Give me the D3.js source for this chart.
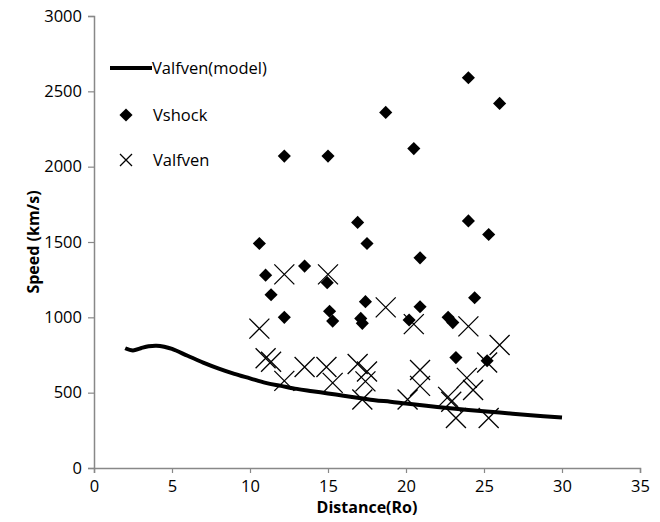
<!DOCTYPE html>
<html><head><meta charset="utf-8">
<script src="https://cdn.jsdelivr.net/npm/d3@7"></script>
<style>body{margin:0;background:#fff}svg{display:block}text{font-family:"Open Sans",sans-serif}</style>
</head><body><svg id="c" width="660" height="522"></svg>
<script>
const xTicks = [0,5,10,15,20,25,30,35];
const yTicks = [0,500,1000,1500,2000,2500,3000];
const modelX = [2.0,2.5,3.0,3.5,4.0,4.5,5.0,6,7,8,9,10,11,12,13,14,15,16,17,18,19,20,22,24,26,28,30];
const modelY = [795,780,795,808,812,805,790,745,700,660,625,595,565,545,525,510,495,480,465,450,440,428,405,385,368,350,335];
const shockX = [10.6,11.0,11.35,12.2,12.2,13.5,15.0,14.95,15.1,15.3,16.9,17.5,17.1,17.2,17.4,18.7,20.5,20.9,20.2,20.9,22.7,23.0,23.2,24.0,24.0,24.4,25.3,25.2,26.0];
const shockY = [1490,1280,1150,2070,1000,1340,2070,1230,1040,975,1630,1490,993,960,1104,2360,2120,1395,982,1070,1000,965,733,2590,1640,1130,1550,712,2420];
const alfX = [10.6,11.0,11.35,12.2,12.2,13.5,15.0,14.9,15.3,16.9,17.5,17.4,17.2,18.7,20.5,20.9,20.9,20.1,22.7,22.9,23.2,24.0,23.9,24.3,25.2,25.3,26.0];
const alfY = [925,728,705,1285,578,670,1285,670,565,690,640,575,455,1066,955,650,545,455,472,440,332,940,598,518,700,332,816];

const svg = d3.select("#c");
const x = d3.scaleLinear().domain([0,35]).range([94,640]);
const y = d3.scaleLinear().domain([0,3000]).range([468,16]);
const axisCol = "#888";
const FS = 16.5;

const gx = svg.append("g").attr("transform","translate(0,468)")
  .call(d3.axisBottom(x).tickValues(xTicks).tickSize(5).tickPadding(7).tickFormat(d3.format("d")));
const gy = svg.append("g").attr("transform","translate(94,0)")
  .call(d3.axisLeft(y).tickValues(yTicks).tickSize(6).tickPadding(6).tickFormat(d3.format("d")));
[gx,gy].forEach(g=>{
  g.select(".domain").attr("stroke",axisCol).attr("stroke-width",1.5);
  g.selectAll(".tick line").attr("stroke",axisCol).attr("stroke-width",1.2);
  g.selectAll("text").attr("font-size",FS).attr("fill","#000").style("font-family","'Open Sans',sans-serif");
});

svg.append("text").attr("x",367).attr("y",513).attr("text-anchor","middle")
  .attr("font-size",16).attr("font-weight","bold").text("Distance(Ro)");
svg.append("text").attr("transform","translate(39,242) rotate(-90)").attr("text-anchor","middle")
  .attr("font-size",16).attr("font-weight","bold").text("Speed (km/s)");

const line = d3.line().x((d,i)=>x(modelX[i])).y(d=>y(d)).curve(d3.curveCatmullRom);
svg.append("path").datum(modelY).attr("d",line).attr("fill","none").attr("stroke","#000").attr("stroke-width",4);

const diam = d3.symbol().type(d3.symbolDiamond2).size(110);
svg.append("g").selectAll("path").data(shockY).join("path")
  .attr("d",diam).attr("transform",(d,i)=>`translate(${x(shockX[i])},${y(d)})`).attr("fill","#000");

svg.append("g").selectAll("path").data(alfY).join("path")
  .attr("transform",(d,i)=>`translate(${x(alfX[i])},${y(d)})`)
  .attr("d","M-10,-10L10,10M-10,10L10,-10").attr("stroke","#000").attr("stroke-width",1.3).attr("fill","none");

// legend
const lg = svg.append("g");
lg.append("line").attr("x1",110).attr("x2",152).attr("y1",68).attr("y2",68).attr("stroke","#000").attr("stroke-width",4);
lg.append("text").attr("x",152).attr("y",74).attr("font-size",FS).text("Valfven(model)");
lg.append("path").attr("d",diam).attr("transform","translate(126,115)").attr("fill","#000");
lg.append("text").attr("x",153).attr("y",121).attr("font-size",FS).text("Vshock");
lg.append("path").attr("d","M-6,-6L6,6M-6,6L6,-6").attr("transform","translate(126,160)").attr("stroke","#000").attr("stroke-width",1.3);
lg.append("text").attr("x",153).attr("y",166).attr("font-size",FS).text("Valfven");
</script></body></html>
